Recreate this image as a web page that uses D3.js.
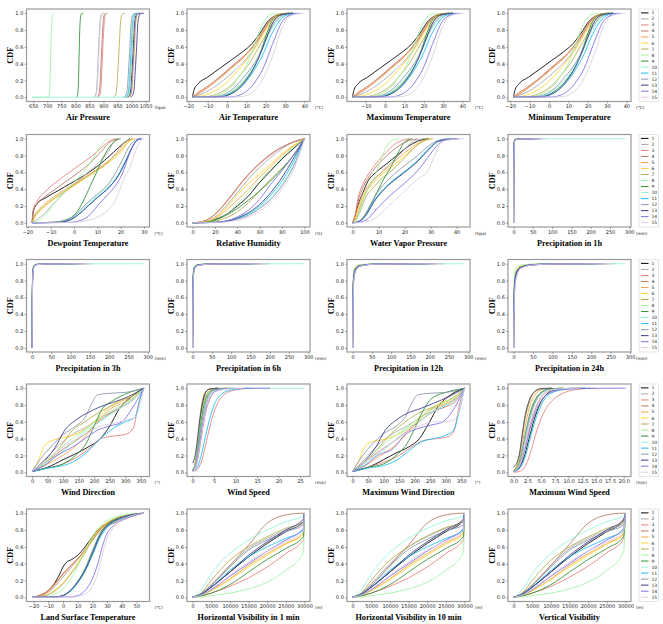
<!DOCTYPE html>
<html>
<head>
<meta charset="utf-8">
<script src="https://cdn.jsdelivr.net/npm/d3@7"></script>
<style>
  body { margin: 0; background: #fff; }
  .tick text { font-family: "DejaVu Sans", sans-serif; font-size: 5px; fill: #222; }
  .tick line { stroke: #555; stroke-width: 0.5; }
  .ttl { font-family: "Liberation Serif", "Times New Roman", serif; font-weight: bold; font-size: 8.2px; }
  .unit { font-family: "DejaVu Sans", sans-serif; font-size: 4.2px; fill: #222; }
  .leg { font-family: "DejaVu Sans", sans-serif; font-size: 4.5px; fill: #222; }
</style>
</head>
<body>
<div id="chart"></div>
<script>
const panelTitles = ["Air Pressure", "Air Temperature", "Maximum Temperature", "Minimum Temperature",
  "Dewpoint Temperature", "Relative Humidity", "Water Vapor Pressure", "Precipitation in 1h",
  "Precipitation in 3h", "Precipitation in 6h", "Precipitation in 12h", "Precipitation in 24h",
  "Wind Direction", "Wind Speed", "Maximum Wind Direction", "Maximum Wind Speed",
  "Land Surface Temperature", "Horizontal Visibility in 1 min", "Horizontal Visibility in 10 min", "Vertical Visibility"];
const panelUnits = ["(hpa)", "(°C)", "(°C)", "(°C)", "(°C)", "(%)", "(hpa)", "(mm)",
  "(mm)", "(mm)", "(mm)", "(mm)", "(°)", "(m/s)", "(°)", "(m/s)", "(°C)", "(m)", "(m)", "(m)"];
const tempTicks = [-20, -10, 0, 10, 20, 30, 40];
const precTicks = [0, 50, 100, 150, 200, 250, 300];
const dirTicks = [0, 50, 100, 150, 200, 250, 300, 350];
const visTicks = [0, 5000, 10000, 15000, 20000, 25000, 30000];
const panelTicks = [[650, 700, 750, 800, 850, 900, 950, 1000, 1050], tempTicks, tempTicks, tempTicks,
  [-20, -10, 0, 10, 20, 30], [0, 20, 40, 60, 80, 100], [0, 10, 20, 30, 40], precTicks,
  precTicks, precTicks, precTicks, precTicks, dirTicks, [0, 5, 10, 15, 20, 25], dirTicks,
  [0, 2.5, 5, 7.5, 10, 12.5, 15, 17.5, 20], [-20, -10, 0, 10, 20, 30, 40, 50], visTicks, visTicks, visTicks];
const cdfTicks = [0, 0.2, 0.4, 0.6, 0.8, 1.0];
const seriesNames = ["1", "2", "3", "4", "5", "6", "7", "8", "9", "10", "11", "12", "13", "14", "15"];
const seriesColors = ["#000000", "#a8a8a8", "#e57f7b", "#b97863", "#f7a24c", "#ffd42a", "#b3ac4e", "#a2f2a0",
  "#2f8f34", "#93f5dc", "#1cbdf3", "#8796a8", "#3c3a8c", "#7b6ee6", "#e0c9e3"];

// each series: [value, cdf] pairs
const airPressure = [
  [[985,0],[995,0.05],[1001,0.3],[1006,0.6],[1011,0.9],[1018,0.99],[1030,1]],
  [[866,0],[874,0.05],[879,0.3],[883,0.6],[888,0.9],[893,0.99],[900,1]],
  [[880,0],[889,0.05],[894,0.3],[898,0.6],[903,0.9],[908,0.99],[914,1]],
  [[877,0],[885,0.05],[890,0.3],[894,0.6],[899,0.9],[904,0.99],[910,1]],
  [[982,0],[992,0.05],[998,0.3],[1003,0.6],[1008,0.9],[1015,0.99],[1028,1]],
  [[990,0],[1000,0.05],[1006,0.3],[1011,0.6],[1016,0.9],[1023,0.99],[1035,1]],
  [[936,0],[945,0.05],[951,0.3],[956,0.6],[961,0.9],[967,0.99],[976,1]],
  [[646,0],[704,0.003],[708,0.05],[711,0.3],[713,0.6],[716,0.9],[719,0.99],[723,1]],
  [[805,0],[809,0.05],[812,0.3],[814,0.6],[817,0.9],[821,0.99],[828,1]],
  [[646,0],[982,0.002],[992,0.05],[998,0.3],[1003,0.6],[1008,0.9],[1015,0.99],[1027,1]],
  [[978,0],[988,0.05],[994,0.3],[999,0.6],[1004,0.9],[1011,0.99],[1022,1]],
  [[972,0],[983,0.05],[989,0.3],[994,0.6],[999,0.9],[1006,0.99],[1018,1]],
  [[996,0],[1007,0.05],[1013,0.3],[1018,0.6],[1023,0.9],[1030,0.99],[1044,1]],
  [[988,0],[998,0.05],[1004,0.3],[1009,0.6],[1014,0.9],[1021,0.99],[1032,1]],
  [[868,0],[876,0.05],[881,0.3],[885,0.6],[890,0.9],[895,0.99],[903,1]]
];
const airTemperature = [
  [[-17.8,0],[-17.2,0.08],[-15,0.16],[-10,0.24],[-4,0.34],[2,0.44],[8,0.54],[13,0.64],[17,0.76],[21,0.9],[25,0.97],[30,0.995],[34,1]],
  [[-17.8,0],[-14,0.03],[-8,0.1],[-2,0.2],[4,0.32],[10,0.46],[15,0.62],[19,0.78],[23,0.92],[27,0.98],[33,1]],
  [[-17.8,0],[-14,0.05],[-8,0.15],[-2,0.28],[4,0.4],[10,0.52],[15,0.66],[19,0.8],[23,0.93],[27,0.99],[32,1]],
  [[-17.8,0],[-16,0.04],[-12,0.1],[-6,0.2],[0,0.31],[6,0.43],[12,0.56],[17,0.72],[21,0.88],[25,0.97],[31,1]],
  [[-17.8,0],[-15,0.04],[-10,0.12],[-4,0.22],[2,0.34],[8,0.46],[13,0.6],[18,0.76],[22,0.9],[26,0.98],[32,1]],
  [[-17.8,0],[-12,0.02],[-6,0.08],[0,0.18],[5,0.3],[10,0.44],[15,0.6],[19,0.76],[23,0.9],[27,0.98],[33,1]],
  [[-17.8,0],[-10,0.01],[-4,0.05],[2,0.14],[7,0.27],[12,0.42],[16,0.58],[20,0.74],[24,0.9],[28,0.98],[34,1]],
  [[-17.8,0],[-8,0.01],[-3,0.04],[2,0.12],[6,0.24],[10,0.38],[13,0.55],[16,0.74],[19,0.9],[22,0.98],[26,1]],
  [[-17.8,0],[-5,0.005],[0,0.03],[5,0.1],[10,0.22],[14,0.36],[17,0.52],[20,0.72],[23,0.9],[27,0.98],[32,1]],
  [[-17.8,0],[-5,0.01],[0,0.04],[5,0.12],[10,0.24],[14,0.38],[18,0.55],[21,0.72],[25,0.88],[29,0.97],[35,1]],
  [[-17.8,0],[-4,0.005],[1,0.03],[6,0.1],[11,0.22],[15,0.36],[19,0.53],[22,0.7],[26,0.87],[30,0.97],[36,1]],
  [[-17.8,0],[-6,0.01],[-1,0.04],[4,0.12],[9,0.25],[14,0.4],[18,0.57],[21,0.74],[25,0.9],[29,0.98],[35,1]],
  [[-17.8,0],[-4,0.005],[1,0.03],[6,0.1],[11,0.24],[15,0.4],[18,0.56],[21,0.74],[24,0.9],[28,0.98],[34,1]],
  [[-17.8,0],[2,0.005],[7,0.03],[11,0.09],[15,0.2],[19,0.36],[22,0.54],[25,0.72],[28,0.88],[32,0.97],[38,1]],
  [[-17.8,0],[6,0.005],[11,0.03],[15,0.1],[19,0.24],[22,0.4],[25,0.58],[27,0.74],[30,0.9],[34,0.98],[40,1]]
];
const maxTemperature = [
  [[-16.8,0],[-16.2,0.08],[-14,0.16],[-9,0.24],[-3,0.34],[3,0.44],[9,0.54],[14,0.64],[18,0.76],[22,0.9],[26,0.97],[31,0.995],[35,1]],
  [[-16.8,0],[-13,0.03],[-7,0.1],[-1,0.2],[5,0.32],[11,0.46],[16,0.62],[20,0.78],[24,0.92],[28,0.98],[34,1]],
  [[-16.8,0],[-13,0.05],[-7,0.15],[-1,0.28],[5,0.4],[11,0.52],[16,0.66],[20,0.8],[24,0.93],[28,0.99],[33,1]],
  [[-16.8,0],[-15,0.04],[-11,0.1],[-5,0.2],[1,0.31],[7,0.43],[13,0.56],[18,0.72],[22,0.88],[26,0.97],[32,1]],
  [[-16.8,0],[-14,0.04],[-9,0.12],[-3,0.22],[3,0.34],[9,0.46],[14,0.6],[19,0.76],[23,0.9],[27,0.98],[33,1]],
  [[-16.8,0],[-11,0.02],[-5,0.08],[1,0.18],[6,0.3],[11,0.44],[16,0.6],[20,0.76],[24,0.9],[28,0.98],[34,1]],
  [[-16.8,0],[-9,0.01],[-3,0.05],[3,0.14],[8,0.27],[13,0.42],[17,0.58],[21,0.74],[25,0.9],[29,0.98],[35,1]],
  [[-16.8,0],[-7,0.01],[-2,0.04],[3,0.12],[7,0.24],[11,0.38],[14,0.55],[17,0.74],[20,0.9],[23,0.98],[27,1]],
  [[-16.8,0],[-4,0.005],[1,0.03],[6,0.1],[11,0.22],[15,0.36],[18,0.52],[21,0.72],[24,0.9],[28,0.98],[33,1]],
  [[-16.8,0],[-4,0.01],[1,0.04],[6,0.12],[11,0.24],[15,0.38],[19,0.55],[22,0.72],[26,0.88],[30,0.97],[36,1]],
  [[-16.8,0],[-3,0.005],[2,0.03],[7,0.1],[12,0.22],[16,0.36],[20,0.53],[23,0.7],[27,0.87],[31,0.97],[37,1]],
  [[-16.8,0],[-5,0.01],[0,0.04],[5,0.12],[10,0.25],[15,0.4],[19,0.57],[22,0.74],[26,0.9],[30,0.98],[36,1]],
  [[-16.8,0],[-3,0.005],[2,0.03],[7,0.1],[12,0.24],[16,0.4],[19,0.56],[22,0.74],[25,0.9],[29,0.98],[35,1]],
  [[-16.8,0],[3,0.005],[8,0.03],[12,0.09],[16,0.2],[20,0.36],[23,0.54],[26,0.72],[29,0.88],[33,0.97],[39,1]],
  [[-16.8,0],[7,0.005],[12,0.03],[16,0.1],[20,0.24],[23,0.4],[26,0.58],[28,0.74],[31,0.9],[35,0.98],[41,1]]
];
const minTemperature = [
  [[-18.3,0],[-17.7,0.08],[-15.5,0.16],[-10.5,0.24],[-4.5,0.34],[1.5,0.44],[7.5,0.54],[12.5,0.64],[16.5,0.76],[20.5,0.9],[24.5,0.97],[29,0.995],[33,1]],
  [[-18.3,0],[-14.5,0.03],[-8.5,0.1],[-2.5,0.2],[3.5,0.32],[9.5,0.46],[14.5,0.62],[18.5,0.78],[22.5,0.92],[26.5,0.98],[32,1]],
  [[-18.3,0],[-14.5,0.05],[-8.5,0.15],[-2.5,0.28],[3.5,0.4],[9.5,0.52],[14.5,0.66],[18.5,0.8],[22.5,0.93],[26.5,0.99],[31,1]],
  [[-18.3,0],[-16.5,0.04],[-12.5,0.1],[-6.5,0.2],[-0.5,0.31],[5.5,0.43],[11.5,0.56],[16.5,0.72],[20.5,0.88],[24.5,0.97],[30,1]],
  [[-18.3,0],[-15.5,0.04],[-10.5,0.12],[-4.5,0.22],[1.5,0.34],[7.5,0.46],[12.5,0.6],[17.5,0.76],[21.5,0.9],[25.5,0.98],[31,1]],
  [[-18.3,0],[-12.5,0.02],[-6.5,0.08],[-0.5,0.18],[4.5,0.3],[9.5,0.44],[14.5,0.6],[18.5,0.76],[22.5,0.9],[26.5,0.98],[32,1]],
  [[-18.3,0],[-10.5,0.01],[-4.5,0.05],[1.5,0.14],[6.5,0.27],[11.5,0.42],[15.5,0.58],[19.5,0.74],[23.5,0.9],[27.5,0.98],[33,1]],
  [[-18.3,0],[-8.5,0.01],[-3.5,0.04],[1.5,0.12],[5.5,0.24],[9.5,0.38],[12.5,0.55],[15.5,0.74],[18.5,0.9],[21.5,0.98],[25,1]],
  [[-18.3,0],[-5.5,0.005],[-0.5,0.03],[4.5,0.1],[9.5,0.22],[13.5,0.36],[16.5,0.52],[19.5,0.72],[22.5,0.9],[26.5,0.98],[31,1]],
  [[-18.3,0],[-5.5,0.01],[-0.5,0.04],[4.5,0.12],[9.5,0.24],[13.5,0.38],[17.5,0.55],[20.5,0.72],[24.5,0.88],[28.5,0.97],[34,1]],
  [[-18.3,0],[-4.5,0.005],[0.5,0.03],[5.5,0.1],[10.5,0.22],[14.5,0.36],[18.5,0.53],[21.5,0.7],[25.5,0.87],[29.5,0.97],[35,1]],
  [[-18.3,0],[-6.5,0.01],[-1.5,0.04],[3.5,0.12],[8.5,0.25],[13.5,0.4],[17.5,0.57],[20.5,0.74],[24.5,0.9],[28.5,0.98],[34,1]],
  [[-18.3,0],[-4.5,0.005],[0.5,0.03],[5.5,0.1],[10.5,0.24],[14.5,0.4],[17.5,0.56],[20.5,0.74],[23.5,0.9],[27.5,0.98],[33,1]],
  [[-18.3,0],[1.5,0.005],[6.5,0.03],[10.5,0.09],[14.5,0.2],[18.5,0.36],[21.5,0.54],[24.5,0.72],[27.5,0.88],[31.5,0.97],[37,1]],
  [[-18.3,0],[5.5,0.005],[10.5,0.03],[14.5,0.1],[18.5,0.24],[21.5,0.4],[24.5,0.58],[26.5,0.74],[29.5,0.9],[33.5,0.98],[39.5,1]]
];
const dewpointTemperature = [
  [[-18,0],[-17.4,0.14],[-16,0.22],[-12,0.3],[-7,0.38],[-2,0.46],[3,0.54],[8,0.63],[13,0.74],[17,0.84],[21,0.94],[24,1]],
  [[-18,0],[-16,0.04],[-13,0.1],[-9,0.22],[-4,0.36],[1,0.48],[6,0.6],[11,0.73],[15,0.86],[17,0.96],[19,1]],
  [[-18,0],[-17.5,0.16],[-16,0.25],[-12,0.38],[-7,0.5],[-2,0.6],[3,0.7],[8,0.8],[12,0.9],[15,0.97],[18,1]],
  [[-18,0],[-17.5,0.14],[-16,0.22],[-12,0.32],[-7,0.42],[-2,0.52],[3,0.62],[8,0.74],[12,0.86],[15,0.95],[19,1]],
  [[-18,0],[-17,0.08],[-15,0.16],[-11,0.26],[-6,0.36],[0,0.46],[5,0.55],[10,0.64],[15,0.74],[20,0.86],[23,0.96],[26,1]],
  [[-18,0],[-17,0.06],[-15,0.13],[-11,0.23],[-6,0.33],[0,0.44],[5,0.53],[10,0.62],[15,0.72],[20,0.84],[23,0.95],[26,1]],
  [[-18,0],[-17,0.07],[-15,0.14],[-11,0.24],[-6,0.34],[0,0.45],[5,0.54],[10,0.63],[15,0.73],[19,0.86],[22,0.96],[25,1]],
  [[-18,0],[-15,0.03],[-12,0.1],[-8,0.25],[-4,0.38],[0,0.48],[4,0.6],[8,0.76],[11,0.9],[13,0.97],[15,1]],
  [[-18,0],[-8,0.01],[-3,0.04],[1,0.12],[4,0.26],[7,0.44],[10,0.62],[13,0.8],[16,0.93],[18,0.98],[20,1]],
  [[-18,0],[-8,0.005],[-3,0.03],[1,0.1],[5,0.2],[10,0.32],[15,0.44],[19,0.58],[22,0.74],[25,0.9],[27,0.98],[29,1]],
  [[-18,0],[-7,0.005],[-2,0.03],[2,0.1],[6,0.2],[10,0.3],[15,0.42],[19,0.56],[22,0.72],[25,0.9],[27,0.98],[29,1]],
  [[-18,0],[-8,0.005],[-3,0.03],[1,0.1],[5,0.22],[10,0.34],[15,0.47],[18,0.6],[21,0.76],[24,0.92],[26,0.98],[28,1]],
  [[-18,0],[-7,0.005],[-2,0.03],[2,0.1],[6,0.2],[10,0.3],[15,0.42],[19,0.56],[22,0.72],[25,0.9],[27,0.98],[29,1]],
  [[-18,0],[-2,0.005],[3,0.03],[7,0.1],[10,0.2],[14,0.32],[18,0.45],[21,0.6],[23,0.76],[25,0.9],[27,0.98],[29,1]],
  [[-18,0],[0,0.005],[6,0.03],[11,0.08],[15,0.16],[18,0.28],[20,0.42],[22,0.56],[24,0.66],[26,0.82],[28,0.95],[30,1]]
];
const relativeHumidity = [
  [[0,0],[10,0.005],[20,0.04],[30,0.1],[40,0.2],[50,0.32],[60,0.48],[70,0.62],[80,0.76],[90,0.88],[100,1]],
  [[0,0],[10,0.01],[20,0.07],[30,0.2],[40,0.36],[50,0.52],[60,0.66],[70,0.78],[80,0.88],[90,0.96],[100,1]],
  [[0,0],[10,0.02],[20,0.1],[30,0.24],[40,0.41],[50,0.57],[60,0.7],[70,0.81],[80,0.9],[90,0.96],[100,1]],
  [[0,0],[10,0.02],[20,0.1],[30,0.25],[40,0.42],[50,0.58],[60,0.71],[70,0.82],[80,0.9],[90,0.96],[100,1]],
  [[0,0],[10,0.01],[20,0.05],[30,0.15],[40,0.27],[50,0.4],[60,0.54],[70,0.67],[80,0.8],[90,0.91],[100,1]],
  [[0,0],[10,0.01],[20,0.06],[30,0.18],[40,0.33],[50,0.47],[60,0.58],[70,0.7],[80,0.82],[90,0.92],[100,1]],
  [[0,0],[10,0.005],[20,0.02],[30,0.06],[40,0.13],[50,0.24],[60,0.38],[70,0.52],[80,0.65],[90,0.8],[100,1]],
  [[0,0],[10,0.005],[20,0.03],[30,0.1],[40,0.22],[50,0.36],[60,0.5],[70,0.64],[80,0.77],[90,0.9],[100,1]],
  [[0,0],[10,0.005],[20,0.03],[30,0.09],[40,0.17],[50,0.27],[60,0.38],[70,0.5],[80,0.64],[90,0.8],[100,1]],
  [[0,0],[20,0.005],[30,0.02],[40,0.05],[50,0.1],[60,0.18],[70,0.3],[80,0.46],[90,0.68],[100,1]],
  [[0,0],[20,0.005],[30,0.02],[40,0.05],[50,0.11],[60,0.2],[70,0.33],[80,0.5],[90,0.72],[100,1]],
  [[0,0],[20,0.005],[30,0.015],[40,0.04],[50,0.09],[60,0.17],[70,0.28],[80,0.44],[90,0.66],[100,1]],
  [[0,0],[20,0.005],[30,0.02],[40,0.06],[50,0.12],[60,0.22],[70,0.36],[80,0.54],[90,0.76],[100,1]],
  [[0,0],[20,0.005],[30,0.02],[40,0.07],[50,0.15],[60,0.28],[70,0.46],[80,0.62],[90,0.8],[100,1]],
  [[0,0],[20,0.003],[30,0.01],[40,0.03],[50,0.07],[60,0.14],[70,0.25],[80,0.4],[90,0.62],[100,1]]
];
const waterVaporPressure = [
  [[0,0],[1,0.08],[2,0.2],[4,0.36],[6,0.5],[9,0.6],[13,0.7],[17,0.8],[21,0.9],[25,0.97],[29,1]],
  [[0,0],[1.5,0.05],[3,0.2],[5,0.36],[8,0.5],[11,0.6],[15,0.72],[19,0.84],[22,0.94],[25,0.99],[28,1]],
  [[0,0],[1,0.1],[2,0.28],[4,0.46],[7,0.62],[10,0.74],[13,0.84],[16,0.93],[19,0.98],[22,1]],
  [[0,0],[1,0.08],[2,0.24],[4,0.42],[7,0.58],[10,0.7],[14,0.82],[18,0.92],[22,0.98],[25,1]],
  [[0,0],[1,0.05],[2,0.17],[4,0.34],[7,0.48],[10,0.57],[14,0.67],[18,0.78],[22,0.88],[26,0.96],[30,1]],
  [[0,0],[1,0.04],[2,0.14],[4,0.3],[7,0.44],[10,0.54],[14,0.64],[18,0.74],[22,0.85],[26,0.95],[30,1]],
  [[0,0],[1.5,0.04],[3,0.14],[5,0.3],[8,0.42],[11,0.52],[15,0.62],[19,0.74],[23,0.87],[27,0.97],[31,1]],
  [[0,0],[1.5,0.04],[3,0.16],[5,0.34],[8,0.52],[10,0.68],[12,0.84],[14,0.95],[16,0.99],[18,1]],
  [[0,0],[2,0.01],[4,0.06],[6,0.16],[8,0.28],[10,0.4],[12,0.52],[15,0.68],[18,0.86],[20,0.96],[23,1]],
  [[0,0],[2,0.01],[4,0.05],[6,0.13],[8,0.24],[11,0.36],[15,0.48],[20,0.6],[25,0.74],[29,0.88],[33,0.97],[38,1]],
  [[0,0],[2,0.01],[4,0.05],[6,0.14],[8,0.25],[11,0.37],[15,0.49],[20,0.61],[25,0.74],[29,0.87],[33,0.97],[38,1]],
  [[0,0],[2,0.01],[4,0.06],[6,0.16],[8,0.28],[11,0.42],[15,0.55],[20,0.68],[25,0.8],[29,0.91],[33,0.98],[37,1]],
  [[0,0],[2,0.01],[4,0.05],[6,0.13],[8,0.24],[11,0.36],[15,0.48],[20,0.6],[25,0.73],[29,0.86],[33,0.97],[40,1]],
  [[0,0],[3,0.01],[6,0.05],[8,0.12],[11,0.22],[15,0.34],[20,0.47],[25,0.62],[29,0.78],[32,0.9],[35,0.98],[41,1]],
  [[0,0],[3,0.005],[6,0.02],[9,0.06],[12,0.14],[16,0.26],[20,0.38],[25,0.52],[29,0.62],[31,0.76],[33,0.9],[36,0.98],[43,1]]
];
const precipitation1h = [
  [[0,0],[0.4,0.62],[1.5,0.95],[4,0.99],[15,0.998],[60,1]],
  [[0,0],[0.4,0.6],[1.5,0.94],[4,0.985],[15,0.997],[45,1]],
  [[0,0],[0.4,0.58],[1.6,0.94],[4,0.985],[15,0.997],[70,1]],
  [[0,0],[0.4,0.6],[1.5,0.95],[4,0.99],[15,0.998],[50,1]],
  [[0,0],[0.4,0.62],[1.5,0.95],[4,0.99],[15,0.998],[55,1]],
  [[0,0],[0.4,0.64],[1.4,0.96],[4,0.99],[15,0.998],[40,1]],
  [[0,0],[0.4,0.6],[1.5,0.95],[4,0.99],[15,0.998],[65,1]],
  [[0,0],[0.4,0.7],[1.3,0.97],[4,0.995],[15,0.999],[85,1]],
  [[0,0],[0.4,0.6],[1.5,0.95],[4,0.99],[15,0.998],[50,1]],
  [[0,0],[0.4,0.62],[1.5,0.95],[4,0.99],[15,0.998],[290,1]],
  [[0,0],[0.4,0.58],[1.6,0.94],[4,0.985],[15,0.997],[60,1]],
  [[0,0],[0.4,0.6],[1.5,0.95],[4,0.99],[15,0.998],[75,1]],
  [[0,0],[0.4,0.6],[1.5,0.95],[4,0.99],[15,0.998],[55,1]],
  [[0,0],[0.4,0.58],[1.6,0.94],[4,0.985],[15,0.997],[70,1]],
  [[0,0],[0.4,0.4],[1.8,0.93],[4.5,0.985],[15,0.997],[80,1]]
];
const precipitation3h = [
  [[0,0],[0.5,0.58],[2,0.92],[5,0.975],[12,0.992],[40,0.998],[120,1]],
  [[0,0],[0.5,0.55],[2,0.9],[5,0.97],[12,0.99],[40,0.998],[90,1]],
  [[0,0],[0.5,0.52],[2,0.89],[5,0.965],[12,0.99],[40,0.997],[150,1]],
  [[0,0],[0.5,0.56],[2,0.91],[5,0.97],[12,0.99],[40,0.998],[100,1]],
  [[0,0],[0.5,0.58],[2,0.92],[5,0.975],[12,0.992],[40,0.998],[110,1]],
  [[0,0],[0.5,0.6],[2,0.93],[5,0.98],[12,0.994],[40,0.999],[80,1]],
  [[0,0],[0.5,0.55],[2,0.9],[5,0.97],[12,0.99],[40,0.998],[130,1]],
  [[0,0],[0.5,0.65],[2,0.95],[5,0.985],[12,0.996],[40,0.999],[160,1]],
  [[0,0],[0.5,0.56],[2,0.91],[5,0.97],[12,0.99],[40,0.998],[100,1]],
  [[0,0],[0.5,0.57],[2,0.91],[5,0.972],[12,0.991],[40,0.998],[290,1]],
  [[0,0],[0.5,0.52],[2,0.89],[5,0.965],[12,0.99],[40,0.997],[120,1]],
  [[0,0],[0.5,0.55],[2,0.9],[5,0.97],[12,0.99],[40,0.998],[140,1]],
  [[0,0],[0.5,0.57],[2,0.91],[5,0.972],[12,0.991],[40,0.998],[110,1]],
  [[0,0],[0.5,0.53],[2,0.89],[5,0.966],[12,0.99],[40,0.997],[130,1]],
  [[0,0],[0.5,0.4],[2,0.87],[5,0.96],[12,0.988],[40,0.997],[150,1]]
];
const precipitation6h = [
  [[0,0],[0.5,0.52],[2,0.88],[5,0.955],[15,0.988],[50,0.997],[160,1]],
  [[0,0],[0.5,0.5],[2,0.86],[5,0.95],[15,0.985],[50,0.997],[120,1]],
  [[0,0],[0.5,0.46],[2,0.84],[5,0.94],[15,0.982],[50,0.996],[200,1]],
  [[0,0],[0.5,0.5],[2,0.86],[5,0.95],[15,0.985],[50,0.997],[140,1]],
  [[0,0],[0.5,0.52],[2,0.88],[5,0.955],[15,0.988],[50,0.997],[150,1]],
  [[0,0],[0.5,0.56],[2,0.9],[5,0.965],[15,0.99],[50,0.998],[110,1]],
  [[0,0],[0.5,0.5],[2,0.86],[5,0.95],[15,0.985],[50,0.997],[170,1]],
  [[0,0],[0.5,0.6],[2,0.93],[5,0.975],[15,0.993],[50,0.999],[200,1]],
  [[0,0],[0.5,0.5],[2,0.87],[5,0.952],[15,0.986],[50,0.997],[130,1]],
  [[0,0],[0.5,0.52],[2,0.87],[5,0.952],[15,0.986],[50,0.997],[290,1]],
  [[0,0],[0.5,0.46],[2,0.84],[5,0.94],[15,0.982],[50,0.996],[160,1]],
  [[0,0],[0.5,0.5],[2,0.86],[5,0.95],[15,0.985],[50,0.997],[180,1]],
  [[0,0],[0.5,0.52],[2,0.87],[5,0.952],[15,0.986],[50,0.997],[150,1]],
  [[0,0],[0.5,0.47],[2,0.85],[5,0.945],[15,0.983],[50,0.996],[170,1]],
  [[0,0],[0.5,0.36],[2,0.82],[5,0.935],[15,0.98],[50,0.996],[190,1]]
];
const precipitation12h = [
  [[0,0],[0.5,0.46],[3,0.86],[8,0.945],[20,0.98],[60,0.996],[200,1]],
  [[0,0],[0.5,0.44],[3,0.84],[8,0.935],[20,0.977],[60,0.995],[160,1]],
  [[0,0],[0.5,0.4],[3,0.8],[8,0.92],[20,0.972],[60,0.994],[240,1]],
  [[0,0],[0.5,0.44],[3,0.84],[8,0.935],[20,0.977],[60,0.995],[180,1]],
  [[0,0],[0.5,0.46],[3,0.86],[8,0.945],[20,0.98],[60,0.996],[190,1]],
  [[0,0],[0.5,0.5],[3,0.89],[8,0.955],[20,0.985],[60,0.997],[150,1]],
  [[0,0],[0.5,0.44],[3,0.84],[8,0.935],[20,0.977],[60,0.995],[210,1]],
  [[0,0],[0.5,0.55],[3,0.92],[8,0.97],[20,0.99],[60,0.998],[240,1]],
  [[0,0],[0.5,0.45],[3,0.85],[8,0.94],[20,0.978],[60,0.995],[170,1]],
  [[0,0],[0.5,0.46],[3,0.85],[8,0.94],[20,0.978],[60,0.995],[290,1]],
  [[0,0],[0.5,0.4],[3,0.8],[8,0.92],[20,0.972],[60,0.994],[200,1]],
  [[0,0],[0.5,0.44],[3,0.84],[8,0.935],[20,0.977],[60,0.995],[220,1]],
  [[0,0],[0.5,0.46],[3,0.85],[8,0.94],[20,0.978],[60,0.995],[190,1]],
  [[0,0],[0.5,0.41],[3,0.82],[8,0.925],[20,0.974],[60,0.994],[210,1]],
  [[0,0],[0.5,0.3],[3,0.78],[8,0.91],[20,0.97],[60,0.994],[230,1]]
];
const precipitation24h = [
  [[0,0],[0.5,0.4],[3,0.8],[8,0.91],[20,0.965],[50,0.99],[100,0.998],[220,1]],
  [[0,0],[0.5,0.38],[3,0.77],[8,0.9],[20,0.96],[50,0.988],[100,0.997],[180,1]],
  [[0,0],[0.5,0.32],[3,0.7],[8,0.86],[20,0.95],[50,0.985],[100,0.996],[260,1]],
  [[0,0],[0.5,0.38],[3,0.78],[8,0.9],[20,0.96],[50,0.988],[100,0.997],[200,1]],
  [[0,0],[0.5,0.4],[3,0.8],[8,0.91],[20,0.965],[50,0.99],[100,0.998],[210,1]],
  [[0,0],[0.5,0.45],[3,0.85],[8,0.93],[20,0.975],[50,0.993],[100,0.998],[170,1]],
  [[0,0],[0.5,0.37],[3,0.76],[8,0.89],[20,0.958],[50,0.987],[100,0.997],[230,1]],
  [[0,0],[0.5,0.5],[3,0.9],[8,0.96],[20,0.985],[50,0.996],[100,0.999],[260,1]],
  [[0,0],[0.5,0.38],[3,0.78],[8,0.9],[20,0.96],[50,0.988],[100,0.997],[190,1]],
  [[0,0],[0.5,0.4],[3,0.79],[8,0.905],[20,0.962],[50,0.989],[100,0.997],[288,1]],
  [[0,0],[0.5,0.33],[3,0.72],[8,0.87],[20,0.952],[50,0.986],[100,0.996],[220,1]],
  [[0,0],[0.5,0.37],[3,0.77],[8,0.895],[20,0.958],[50,0.987],[100,0.997],[240,1]],
  [[0,0],[0.5,0.4],[3,0.79],[8,0.905],[20,0.962],[50,0.989],[100,0.997],[210,1]],
  [[0,0],[0.5,0.35],[3,0.74],[8,0.88],[20,0.955],[50,0.986],[100,0.996],[230,1]],
  [[0,0],[0.5,0.25],[3,0.68],[8,0.85],[20,0.948],[50,0.985],[100,0.996],[250,1]]
];
const windDirection = [
  [[0,0.01],[50,0.06],[100,0.15],[140,0.22],[180,0.3],[220,0.4],[250,0.55],[280,0.75],[320,0.9],[360,1]],
  [[0,0.01],[40,0.15],[80,0.3],[130,0.45],[180,0.55],[220,0.65],[260,0.72],[300,0.8],[330,0.88],[360,1]],
  [[0,0.01],[50,0.05],[100,0.1],[140,0.17],[190,0.3],[220,0.4],[260,0.43],[300,0.45],[325,0.52],[345,0.85],[360,1]],
  [[0,0.01],[40,0.1],[90,0.25],[130,0.35],[180,0.48],[220,0.62],[260,0.72],[300,0.8],[330,0.88],[360,1]],
  [[0,0.01],[40,0.08],[90,0.18],[130,0.28],[170,0.42],[210,0.6],[250,0.75],[290,0.82],[330,0.9],[360,1]],
  [[0,0.01],[20,0.14],[40,0.32],[60,0.37],[100,0.41],[145,0.46],[200,0.6],[240,0.75],[280,0.85],[320,0.9],[360,1]],
  [[0,0.01],[40,0.1],[90,0.3],[130,0.5],[170,0.6],[210,0.7],[250,0.78],[290,0.85],[330,0.92],[360,1]],
  [[0,0.01],[40,0.12],[90,0.28],[130,0.4],[170,0.5],[210,0.62],[250,0.72],[290,0.8],[330,0.9],[360,1]],
  [[0,0.01],[50,0.05],[100,0.1],[140,0.2],[175,0.35],[200,0.55],[225,0.75],[260,0.85],[300,0.93],[360,1]],
  [[0,0.01],[40,0.1],[90,0.22],[130,0.35],[170,0.48],[210,0.58],[250,0.68],[290,0.78],[330,0.88],[360,1]],
  [[0,0.01],[50,0.05],[100,0.08],[130,0.12],[180,0.25],[220,0.4],[260,0.52],[300,0.6],[330,0.65],[350,0.9],[360,1]],
  [[0,0.01],[25,0.15],[60,0.3],[100,0.45],[140,0.55],[170,0.65],[190,0.8],[210,0.92],[250,0.94],[300,0.95],[360,1]],
  [[0,0.01],[30,0.1],[75,0.3],[105,0.5],[140,0.62],[175,0.7],[220,0.78],[260,0.83],[310,0.9],[360,1]],
  [[0,0.01],[40,0.08],[80,0.2],[130,0.3],[170,0.4],[210,0.5],[250,0.55],[290,0.6],[320,0.75],[360,1]],
  [[0,0.01],[30,0.1],[80,0.25],[120,0.35],[170,0.45],[220,0.55],[260,0.58],[300,0.62],[330,0.65],[360,1]]
];
const windSpeed = [
  [[0,0.02],[0.5,0.08],[1,0.25],[1.5,0.5],[2,0.72],[2.5,0.87],[3,0.95],[4,0.99],[6,1]],
  [[0,0.02],[0.5,0.05],[1,0.14],[1.5,0.3],[2,0.48],[2.5,0.64],[3,0.77],[4,0.92],[5,0.98],[7,1]],
  [[0,0.01],[1,0.03],[2,0.12],[3,0.32],[4,0.54],[5,0.72],[6,0.84],[7.5,0.93],[10,0.98],[14,1]],
  [[0,0.02],[0.5,0.04],[1,0.1],[1.5,0.24],[2,0.4],[2.5,0.56],[3,0.7],[4,0.87],[5,0.96],[7,0.995],[10,1]],
  [[0,0.02],[0.5,0.06],[1,0.2],[1.5,0.42],[2,0.63],[2.5,0.79],[3,0.89],[4,0.97],[5,0.99],[8,1]],
  [[0,0.03],[0.5,0.1],[1,0.3],[1.5,0.56],[2,0.77],[2.5,0.9],[3,0.96],[4,0.99],[6,1]],
  [[0,0.02],[0.5,0.08],[1,0.25],[1.5,0.48],[2,0.68],[2.5,0.82],[3,0.91],[4,0.97],[5,0.99],[8,1]],
  [[0,0.02],[0.5,0.07],[1,0.22],[1.5,0.44],[2,0.64],[2.5,0.78],[3,0.88],[4,0.96],[5.5,0.99],[9,1]],
  [[0,0.02],[0.5,0.06],[1,0.2],[1.5,0.4],[2,0.6],[2.5,0.76],[3,0.86],[4,0.95],[5.5,0.99],[9,1]],
  [[0,0.03],[0.5,0.07],[1,0.18],[1.5,0.36],[2,0.55],[2.5,0.7],[3,0.81],[4,0.93],[5.5,0.98],[9,0.998],[26,1]],
  [[0,0.02],[1,0.05],[2,0.2],[3,0.43],[4,0.64],[5,0.8],[6.5,0.92],[9,0.98],[13,1]],
  [[0,0.03],[0.5,0.07],[1,0.18],[1.5,0.36],[2,0.55],[2.5,0.7],[3,0.82],[4,0.94],[5,0.98],[8,1]],
  [[0,0.11],[0.5,0.18],[1,0.34],[1.5,0.56],[2,0.75],[2.5,0.88],[3,0.95],[4,0.99],[6,1]],
  [[0,0.02],[0.5,0.05],[1,0.13],[1.5,0.28],[2,0.45],[2.5,0.6],[3,0.73],[4,0.88],[5.5,0.97],[8,0.995],[18,1]],
  [[0,0.01],[0.5,0.04],[1,0.12],[1.5,0.26],[2,0.42],[2.5,0.58],[3,0.72],[4,0.88],[5.5,0.96],[8,0.99],[12,1]]
];
const maxWindDirection = [
  [[0,0.01],[50,0.06],[100,0.15],[140,0.23],[180,0.3],[215,0.4],[245,0.58],[275,0.78],[315,0.92],[360,1]],
  [[0,0.01],[40,0.16],[80,0.32],[130,0.46],[180,0.56],[220,0.66],[260,0.73],[300,0.8],[330,0.87],[360,1]],
  [[0,0.01],[50,0.06],[100,0.12],[140,0.18],[190,0.3],[230,0.38],[270,0.4],[305,0.42],[325,0.48],[345,0.82],[360,1]],
  [[0,0.01],[40,0.12],[90,0.26],[130,0.36],[180,0.5],[220,0.62],[260,0.72],[300,0.78],[330,0.84],[360,1]],
  [[0,0.01],[40,0.08],[90,0.2],[130,0.3],[170,0.44],[210,0.62],[250,0.74],[290,0.8],[330,0.88],[360,1]],
  [[0,0.01],[20,0.14],[40,0.31],[60,0.36],[100,0.39],[145,0.45],[200,0.58],[240,0.72],[280,0.82],[320,0.88],[360,1]],
  [[0,0.01],[40,0.12],[90,0.32],[130,0.48],[170,0.6],[210,0.7],[250,0.76],[290,0.82],[330,0.9],[360,1]],
  [[0,0.01],[40,0.12],[90,0.3],[130,0.42],[170,0.52],[210,0.64],[250,0.74],[290,0.82],[330,0.9],[360,1]],
  [[0,0.01],[50,0.06],[100,0.1],[140,0.2],[175,0.34],[200,0.52],[225,0.72],[255,0.88],[300,0.95],[360,1]],
  [[0,0.01],[40,0.1],[90,0.24],[130,0.36],[170,0.5],[210,0.6],[250,0.7],[290,0.78],[330,0.86],[360,1]],
  [[0,0.01],[50,0.05],[100,0.08],[140,0.14],[180,0.25],[220,0.36],[260,0.4],[300,0.44],[325,0.5],[345,0.75],[360,1]],
  [[0,0.01],[25,0.16],[60,0.32],[100,0.46],[140,0.55],[170,0.66],[190,0.82],[210,0.92],[250,0.94],[300,0.95],[360,1]],
  [[0,0.01],[30,0.1],[75,0.3],[105,0.5],[140,0.62],[175,0.7],[220,0.76],[260,0.82],[310,0.9],[360,1]],
  [[0,0.01],[40,0.08],[80,0.2],[130,0.28],[170,0.45],[210,0.52],[250,0.56],[290,0.6],[320,0.72],[360,1]],
  [[0,0.01],[30,0.1],[80,0.24],[120,0.34],[170,0.46],[220,0.56],[260,0.6],[300,0.6],[330,0.63],[360,1]]
];
const maxWindSpeed = [
  [[0,0.01],[1,0.05],[2,0.2],[3,0.45],[4,0.68],[5,0.84],[6,0.93],[7.5,0.98],[10,0.998],[13,1]],
  [[0,0.01],[1,0.08],[2,0.35],[3,0.64],[4,0.84],[5,0.94],[6.5,0.99],[9,1]],
  [[0,0],[1,0.01],[2,0.06],[3,0.22],[4,0.45],[5,0.64],[6,0.77],[7.5,0.88],[9,0.94],[11,0.98],[15,1]],
  [[0,0.01],[1,0.06],[2,0.28],[3,0.55],[4,0.76],[5,0.89],[6.5,0.97],[9,0.995],[12,1]],
  [[0,0.01],[1,0.12],[1.5,0.3],[2,0.5],[3,0.8],[4,0.93],[5,0.98],[7,1]],
  [[0,0.02],[1,0.18],[1.5,0.4],[2,0.62],[3,0.88],[4,0.97],[5,0.995],[7,1]],
  [[0,0.02],[1,0.16],[1.5,0.38],[2,0.6],[3,0.86],[4,0.96],[5,0.99],[7,1]],
  [[0,0.01],[1,0.1],[2,0.42],[3,0.72],[4,0.88],[5,0.95],[6.5,0.99],[9,1]],
  [[0,0.01],[1,0.1],[2,0.4],[3,0.7],[4,0.87],[5,0.95],[6.5,0.99],[9,1]],
  [[0,0.01],[1,0.09],[2,0.38],[3,0.66],[4,0.84],[5,0.93],[6.5,0.98],[9,0.997],[13,1]],
  [[0,0.01],[1,0.04],[2,0.16],[3,0.4],[4,0.63],[5,0.8],[6,0.9],[7.5,0.96],[10,0.99],[14,1]],
  [[0,0.02],[1,0.1],[2,0.4],[3,0.68],[4,0.85],[5,0.94],[6.5,0.99],[9,1]],
  [[0,0.06],[1,0.2],[1.5,0.42],[2,0.64],[3,0.88],[4,0.97],[5,0.995],[7,1]],
  [[0,0.01],[1,0.06],[2,0.26],[3,0.52],[4,0.72],[5,0.85],[6.5,0.94],[9,0.985],[13,0.998],[20.3,1]],
  [[0,0.01],[1,0.07],[2,0.3],[3,0.58],[4,0.78],[5,0.9],[6.5,0.97],[9,0.995],[12,1]]
];
const landSurfaceTemperature = [
  [[-21,0],[-15,0.02],[-10,0.08],[-6,0.16],[-3,0.25],[0,0.36],[2,0.41],[6,0.45],[10,0.5],[15,0.6],[20,0.72],[25,0.82],[30,0.88],[35,0.93],[40,0.96],[55,1]],
  [[-21,0],[-15,0.02],[-10,0.06],[-5,0.14],[0,0.24],[5,0.34],[10,0.45],[15,0.57],[20,0.7],[25,0.8],[30,0.87],[40,0.95],[53,1]],
  [[-21,0],[-15,0.03],[-10,0.08],[-5,0.17],[0,0.28],[5,0.37],[10,0.46],[15,0.57],[20,0.7],[25,0.8],[30,0.86],[40,0.93],[54,1]],
  [[-21,0],[-15,0.03],[-10,0.08],[-5,0.17],[0,0.28],[5,0.37],[10,0.46],[15,0.56],[20,0.68],[25,0.78],[30,0.84],[40,0.92],[54,1]],
  [[-21,0],[-15,0.02],[-10,0.07],[-5,0.16],[0,0.27],[5,0.36],[10,0.45],[15,0.56],[20,0.7],[25,0.81],[30,0.87],[40,0.94],[54,1]],
  [[-21,0],[-12,0.02],[-6,0.08],[0,0.17],[5,0.28],[10,0.4],[15,0.55],[20,0.7],[25,0.82],[30,0.89],[40,0.96],[53,1]],
  [[-21,0],[-12,0.02],[-6,0.07],[0,0.16],[5,0.27],[10,0.39],[15,0.53],[20,0.68],[25,0.8],[30,0.88],[40,0.95],[53,1]],
  [[-21,0],[-10,0.01],[-4,0.05],[2,0.14],[8,0.3],[13,0.48],[18,0.66],[23,0.8],[28,0.89],[35,0.95],[50,1]],
  [[-21,0],[-5,0.005],[0,0.02],[5,0.08],[10,0.19],[15,0.34],[20,0.55],[25,0.75],[30,0.86],[35,0.92],[42,0.96],[54,1]],
  [[-21,0],[-5,0.005],[0,0.02],[5,0.08],[10,0.18],[15,0.32],[20,0.52],[25,0.72],[30,0.84],[35,0.9],[42,0.95],[55,1]],
  [[-21,0],[-5,0.005],[0,0.02],[5,0.07],[10,0.17],[15,0.31],[20,0.5],[25,0.7],[30,0.83],[35,0.9],[42,0.95],[55,1]],
  [[-21,0],[-5,0.005],[0,0.02],[5,0.08],[10,0.19],[15,0.33],[20,0.53],[25,0.73],[30,0.85],[35,0.91],[42,0.96],[54,1]],
  [[-21,0],[-5,0.005],[0,0.02],[5,0.08],[10,0.18],[15,0.32],[20,0.52],[25,0.73],[30,0.85],[35,0.91],[42,0.96],[55,1]],
  [[-21,0],[5,0.005],[10,0.02],[15,0.08],[20,0.22],[24,0.42],[27,0.62],[30,0.76],[35,0.86],[42,0.93],[55,1]],
  [[-21,0],[8,0.005],[14,0.03],[19,0.1],[23,0.25],[26,0.45],[29,0.65],[33,0.8],[38,0.9],[45,0.96],[55,1]]
];
const visibility1min = [
  [[0,0],[2500,0.04],[5000,0.12],[10000,0.3],[15000,0.48],[20000,0.64],[25000,0.78],[29700,0.9],[30000,1]],
  [[0,0],[2500,0.05],[5000,0.15],[10000,0.38],[15000,0.58],[20000,0.7],[25000,0.8],[29700,0.88],[30000,1]],
  [[0,0],[2500,0.02],[5000,0.05],[10000,0.13],[15000,0.23],[20000,0.36],[25000,0.52],[29700,0.68],[30000,1]],
  [[0,0],[2500,0.05],[5000,0.14],[10000,0.38],[15000,0.62],[20000,0.88],[25000,0.98],[29700,1],[30000,1]],
  [[0,0],[2500,0.03],[5000,0.08],[10000,0.22],[15000,0.38],[20000,0.52],[25000,0.64],[29700,0.76],[30000,1]],
  [[0,0],[2500,0.03],[5000,0.08],[10000,0.21],[15000,0.36],[20000,0.5],[25000,0.63],[29700,0.75],[30000,1]],
  [[0,0],[2500,0.06],[5000,0.2],[10000,0.44],[15000,0.6],[20000,0.72],[25000,0.82],[29700,0.9],[30000,1]],
  [[0,0],[2500,0.005],[5000,0.02],[10000,0.05],[15000,0.1],[20000,0.18],[25000,0.32],[29700,0.53],[30000,1]],
  [[0,0],[2500,0.02],[5000,0.05],[10000,0.15],[15000,0.3],[20000,0.45],[25000,0.58],[29700,0.72],[30000,1]],
  [[0,0],[2500,0.1],[5000,0.28],[10000,0.52],[15000,0.68],[20000,0.8],[25000,0.9],[29700,0.97],[30000,1]],
  [[0,0],[2500,0.04],[5000,0.12],[10000,0.32],[15000,0.48],[20000,0.6],[25000,0.7],[29700,0.8],[30000,1]],
  [[0,0],[2500,0.05],[5000,0.14],[10000,0.36],[15000,0.56],[20000,0.68],[25000,0.78],[29700,0.86],[30000,1]],
  [[0,0],[2500,0.04],[5000,0.12],[10000,0.3],[15000,0.5],[20000,0.66],[25000,0.8],[29700,0.93],[30000,1]],
  [[0,0],[2500,0.03],[5000,0.09],[10000,0.25],[15000,0.4],[20000,0.55],[25000,0.68],[29700,0.82],[30000,1]],
  [[0,0],[2500,0.03],[5000,0.1],[10000,0.26],[15000,0.42],[20000,0.55],[25000,0.66],[29700,0.78],[30000,1]]
];
const visibility10min = [
  [[0,0],[2500,0.04],[5000,0.12],[10000,0.3],[15000,0.48],[20000,0.64],[25000,0.78],[29700,0.91],[30000,1]],
  [[0,0],[2500,0.05],[5000,0.16],[10000,0.4],[15000,0.6],[20000,0.72],[25000,0.82],[29700,0.9],[30000,1]],
  [[0,0],[2500,0.02],[5000,0.05],[10000,0.13],[15000,0.23],[20000,0.36],[25000,0.52],[29700,0.68],[30000,1]],
  [[0,0],[2500,0.05],[5000,0.14],[10000,0.38],[15000,0.62],[20000,0.88],[25000,0.98],[29700,1],[30000,1]],
  [[0,0],[2500,0.03],[5000,0.08],[10000,0.22],[15000,0.38],[20000,0.52],[25000,0.65],[29700,0.77],[30000,1]],
  [[0,0],[2500,0.03],[5000,0.08],[10000,0.21],[15000,0.36],[20000,0.5],[25000,0.63],[29700,0.75],[30000,1]],
  [[0,0],[2500,0.06],[5000,0.2],[10000,0.44],[15000,0.6],[20000,0.73],[25000,0.83],[29700,0.91],[30000,1]],
  [[0,0],[2500,0.005],[5000,0.02],[10000,0.05],[15000,0.1],[20000,0.18],[25000,0.32],[29700,0.53],[30000,1]],
  [[0,0],[2500,0.02],[5000,0.05],[10000,0.15],[15000,0.3],[20000,0.45],[25000,0.58],[29700,0.72],[30000,1]],
  [[0,0],[2500,0.1],[5000,0.28],[10000,0.53],[15000,0.7],[20000,0.82],[25000,0.91],[29700,0.97],[30000,1]],
  [[0,0],[2500,0.04],[5000,0.12],[10000,0.32],[15000,0.48],[20000,0.6],[25000,0.7],[29700,0.8],[30000,1]],
  [[0,0],[2500,0.05],[5000,0.14],[10000,0.37],[15000,0.57],[20000,0.69],[25000,0.79],[29700,0.86],[30000,1]],
  [[0,0],[2500,0.04],[5000,0.12],[10000,0.3],[15000,0.5],[20000,0.66],[25000,0.8],[29700,0.93],[30000,1]],
  [[0,0],[2500,0.03],[5000,0.09],[10000,0.25],[15000,0.4],[20000,0.55],[25000,0.68],[29700,0.82],[30000,1]],
  [[0,0],[2500,0.03],[5000,0.1],[10000,0.26],[15000,0.42],[20000,0.56],[25000,0.67],[29700,0.79],[30000,1]]
];
const verticalVisibility = [
  [[0,0],[2500,0.04],[5000,0.12],[10000,0.3],[15000,0.48],[20000,0.64],[25000,0.78],[29500,0.91],[30000,1]],
  [[0,0],[2500,0.05],[5000,0.15],[10000,0.38],[15000,0.58],[20000,0.7],[25000,0.8],[29500,0.88],[30000,1]],
  [[0,0],[2500,0.02],[5000,0.05],[10000,0.13],[15000,0.24],[20000,0.37],[25000,0.53],[29500,0.69],[30000,1]],
  [[0,0],[2500,0.05],[5000,0.14],[10000,0.38],[15000,0.63],[20000,0.88],[25000,0.98],[29500,1],[30000,1]],
  [[0,0],[2500,0.03],[5000,0.08],[10000,0.22],[15000,0.38],[20000,0.52],[25000,0.64],[29500,0.76],[30000,1]],
  [[0,0],[2500,0.03],[5000,0.08],[10000,0.21],[15000,0.36],[20000,0.5],[25000,0.63],[29500,0.75],[30000,1]],
  [[0,0],[2500,0.06],[5000,0.2],[10000,0.44],[15000,0.6],[20000,0.72],[25000,0.82],[29500,0.9],[30000,1]],
  [[0,0],[2500,0.005],[5000,0.02],[10000,0.05],[15000,0.1],[20000,0.18],[25000,0.32],[29500,0.54],[30000,1]],
  [[0,0],[2500,0.02],[5000,0.05],[10000,0.15],[15000,0.3],[20000,0.45],[25000,0.58],[29500,0.72],[30000,1]],
  [[0,0],[2500,0.1],[5000,0.28],[10000,0.52],[15000,0.68],[20000,0.8],[25000,0.9],[29500,0.97],[30000,1]],
  [[0,0],[2500,0.04],[5000,0.12],[10000,0.32],[15000,0.48],[20000,0.6],[25000,0.7],[29500,0.8],[30000,1]],
  [[0,0],[2500,0.05],[5000,0.14],[10000,0.36],[15000,0.56],[20000,0.68],[25000,0.78],[29500,0.86],[30000,1]],
  [[0,0],[2500,0.04],[5000,0.12],[10000,0.3],[15000,0.5],[20000,0.66],[25000,0.8],[29500,0.93],[30000,1]],
  [[0,0],[2500,0.03],[5000,0.09],[10000,0.25],[15000,0.4],[20000,0.55],[25000,0.68],[29500,0.82],[30000,1]],
  [[0,0],[2500,0.03],[5000,0.1],[10000,0.26],[15000,0.42],[20000,0.55],[25000,0.66],[29500,0.78],[30000,1]]
];

const panelData = [airPressure, airTemperature, maxTemperature, minTemperature,
  dewpointTemperature, relativeHumidity, waterVaporPressure, precipitation1h,
  precipitation3h, precipitation6h, precipitation12h, precipitation24h,
  windDirection, windSpeed, maxWindDirection, maxWindSpeed,
  landSurfaceTemperature, visibility1min, visibility10min, verticalVisibility];

const W = 663, H = 624;
const colX = [26.5, 187, 347, 508];
const rowY = [9, 134.5, 259.5, 384, 509];
const PW = 123, PH = 92.5;

const svg = d3.select("#chart").append("svg")
  .attr("width", W)
  .attr("height", H)
  .attr("viewBox", `0 0 ${W} ${H}`);

panelData.forEach((lines, i) => {
  const col = i % 4, row = Math.floor(i / 4);
  const left = colX[col], top = rowY[row];
  const [lo, hi] = d3.extent(lines.flat(), d => d[0]);
  const pad = (hi - lo) * 0.05;
  const x = d3.scaleLinear().domain([lo - pad, hi + pad]).range([left, left + PW]);
  const y = d3.scaleLinear().domain([-0.05, 1.05]).range([top + PH, top]);
  const g = svg.append("g");

  const line = d3.line().x(d => x(d[0])).y(d => y(d[1])).curve(d3.curveMonotoneX);
  g.append("g").selectAll("path").data(lines).join("path")
    .attr("d", line)
    .attr("fill", "none")
    .attr("stroke", (d, j) => seriesColors[j])
    .attr("stroke-opacity", 0.9)
    .attr("stroke-width", 0.95);

  g.append("rect")
    .attr("x", left).attr("y", top).attr("width", PW).attr("height", PH)
    .attr("fill", "none").attr("stroke", "#9a9a9a").attr("stroke-width", 1.2);

  const [d0, d1] = x.domain();
  const xt = panelTicks[i].filter(t => t >= d0 && t <= d1);
  const fmt = i === 15 ? d3.format(".1f") : d3.format("d");
  g.append("g").attr("transform", `translate(0,${top + PH})`)
    .call(d3.axisBottom(x).tickValues(xt).tickFormat(fmt).tickSize(2).tickPadding(1.2))
    .call(a => a.select(".domain").remove());
  g.append("g").attr("transform", `translate(${left},0)`)
    .call(d3.axisLeft(y).tickValues(cdfTicks).tickFormat(d3.format(".1f")).tickSize(2).tickPadding(1.2))
    .call(a => a.select(".domain").remove());
  g.selectAll(".tick text").attr("font-size", null).attr("font-family", null);

  g.append("text").attr("class", "ttl")
    .attr("transform", `translate(${left - 16},${top + PH / 2}) rotate(-90)`)
    .attr("text-anchor", "middle").attr("dominant-baseline", "central")
    .text("CDF");
  g.append("text").attr("class", "ttl")
    .attr("x", left + PW / 2).attr("y", top + PH + 18.5)
    .attr("text-anchor", "middle")
    .text(panelTitles[i]);
  g.append("text").attr("class", "unit")
    .attr("x", left + PW + 5).attr("y", top + PH + 7.5)
    .text(panelUnits[i]);

  if (col === 3) {
    const lg = g.append("g");
    lg.append("rect")
      .attr("x", 639).attr("y", top).attr("width", 19.5).attr("height", PH)
      .attr("fill", "#fff").attr("stroke", "#d4d4d4").attr("stroke-width", 0.6);
    seriesNames.forEach((name, j) => {
      const yy = top + 3.9 + j * 6.02;
      lg.append("line").attr("x1", 641).attr("x2", 648.5).attr("y1", yy).attr("y2", yy)
        .attr("stroke", seriesColors[j]).attr("stroke-width", 1);
      lg.append("text").attr("class", "leg").attr("x", 651.5).attr("y", yy)
        .attr("dominant-baseline", "central").text(name);
    });
  }
});
</script>
</body>
</html>
